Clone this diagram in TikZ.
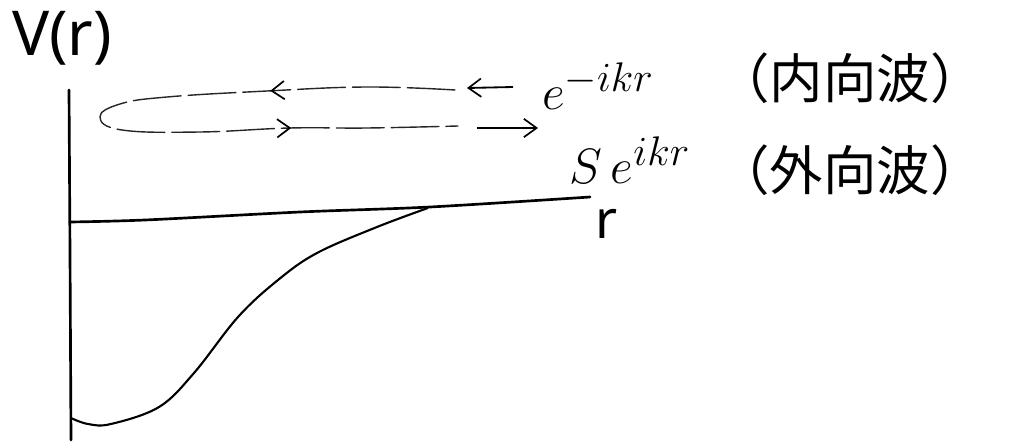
\documentclass[tikz,border=0pt]{standalone}
\usepackage{fontspec}
\usepackage{tikz}
\usetikzlibrary{arrows.meta, decorations.markings}
\newfontfamily\jpfont{Noto Sans CJK JP}
\newfontfamily\handfont{Noto Sans}

\begin{document}
\begin{tikzpicture}[x=0.025cm, y=-0.025cm,
    axisline/.style={line width=1.9pt, line cap=round},
    wavepath/.style={line width=1pt, black!85, dash pattern=on 34pt off 5pt, line cap=round},
    barb/.style={-{Straight Barb[length=9pt, width=13pt, line width=1.2pt]}, line width=1.3pt},
    jplabel/.style={font=\jpfont\fontsize{38}{38}\selectfont, inner sep=0pt},
    mathlabel/.style={font=\Huge, scale=1.42, inner sep=0pt}]

    \useasboundingbox (0,0) rectangle (1023,446);

    % Axes
    \coordinate (vtop) at (69,90);
    \coordinate (vbot) at (71,440);
    \coordinate (origin) at (70,222);
    \coordinate (rend) at (590,197);
    \node[font=\handfont\fontsize{44}{44}\selectfont, inner sep=0pt] (vlabel) at (62,38) {V(r)};
    \node[font=\handfont\fontsize{38}{38}\selectfont, inner sep=0pt] (rlabel) at (607,224) {r};

    \draw[axisline] (vtop) .. controls (70,250) .. (vbot);
    \draw[axisline] plot[smooth] coordinates {(origin) (145,220) (300,212) (430,207) (rend)};

    % Potential well
    \draw[line width=1.5pt] plot[smooth, tension=0.6] coordinates {
      (71,418) (88,424) (111,424) (159,407) (194,373) (238,317)
      (278,280) (317,253) (377,227) (428,208)};

    % Incoming and outgoing waves
    \coordinate (loopin) at (455,90);
    \coordinate (loopout) at (458,126);
    \draw[wavepath, postaction={decorate}, decoration={markings,
        mark=at position 0.255 with {\arrow[black, line width=1.2pt]{Straight Barb[length=9pt, width=13pt]}},
        mark=at position 0.77 with {\arrow[black, line width=1.2pt]{Straight Barb[length=9pt, width=13pt]}}}]
      plot[smooth, tension=0.7] coordinates {(loopin) (367,87) (267,91) (167,97) (120,104)
        (100,117) (122,130) (200,132) (290,128) (367,128) (loopout)};

    \coordinate (inA) at (513,87);
    \coordinate (inB) at (467,88);
    \coordinate (outA) at (477,128);
    \coordinate (outB) at (538,128);
    \draw[barb] (inA) -- (inB);
    \draw[barb] (outA) -- (outB);

    % Labels
    \node[mathlabel] (inwave) at (598,86) {$e^{-ikr}$};
    \node[mathlabel] (outwave) at (630,160) {$S\,e^{ikr}$};
    \node[jplabel] (inname) at (850,78) {（内向波）};
    \node[jplabel] (outname) at (850,170) {（外向波）};

  \end{tikzpicture}
\end{document}
